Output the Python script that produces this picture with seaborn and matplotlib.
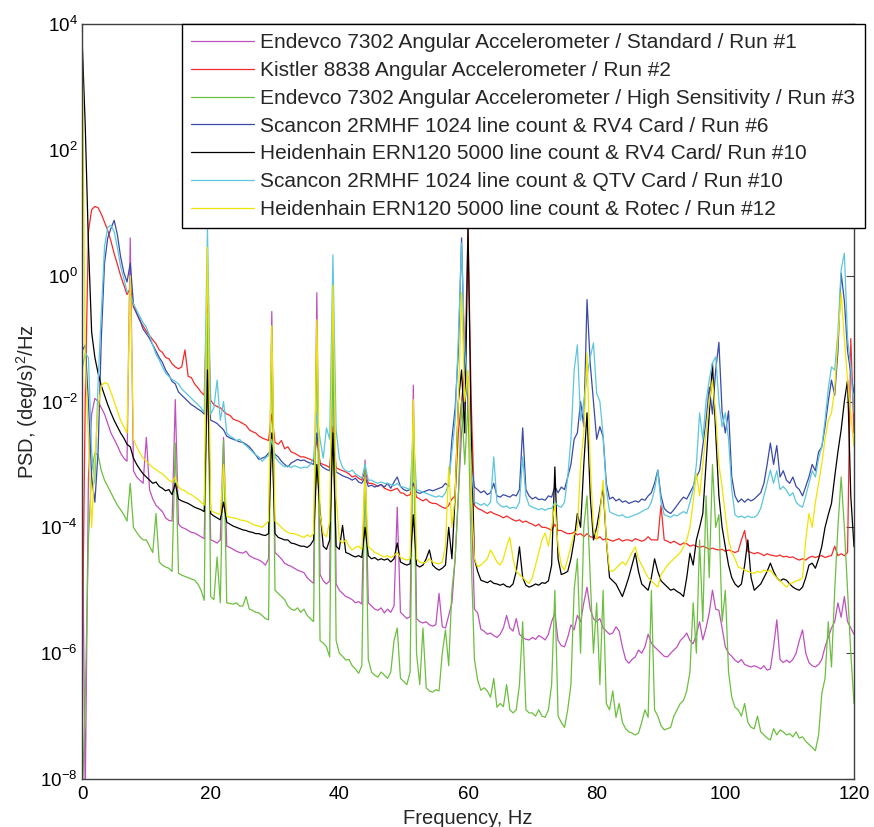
import numpy as np
import pandas as pd
import matplotlib
matplotlib.use("Agg")
import matplotlib.pyplot as plt
from matplotlib.ticker import NullLocator
import seaborn as sns

# Frequency bins of the spectra (0.5 Hz resolution, 0-120 Hz)
freq_hz = np.arange(0, 120.5, 0.5)

sensor_labels = [
    "Endevco 7302 Angular Accelerometer / Standard / Run #1",
    "Kistler 8838 Angular Accelerometer / Run #2",
    "Endevco 7302 Angular Accelerometer / High Sensitivity / Run #3",
    "Scancon 2RMHF 1024 line count & RV4 Card / Run #6",
    "Heidenhain ERN120 5000 line count & RV4 Card/ Run #10",
    "Scancon 2RMHF 1024 line count & QTV Card / Run #10",
    "Heidenhain ERN120 5000 line count & Rotec / Run #12",
]
line_colors = ["#bf50bf", "#f52a2a", "#6cbf3f", "#3a4aa8", "#000000", "#5cc6dc", "#f0e400"]

# PSD values as log10((deg/s)^2/Hz), one value per frequency bin
log_psd_endevco_std = [
    -3.0, -8.3, -3.2, -2.2, -1.95, -2.0, -2.1, -2.2, -2.35, -2.5, -2.6, -2.7, -2.82, -2.9, -2.95, 0.6, -3.1, -3.2, -3.25, -3.3,
    -2.57, -3.4, -3.55, -3.65, -3.7, -3.75, -3.85, -3.89, -3.9, -1.97, -3.95, -4.0, -4.02, -4.05, -4.08, -4.09, -4.12, -4.15, -4.18, -1.5,
    -4.2, -4.22, -4.25, -4.2, -2.57, -4.3, -4.32, -4.35, -4.38, -4.4, -4.41, -4.38, -4.45, -4.48, -4.5, -4.52, -4.55, -4.6, -4.5, -0.57,
    -4.4, -4.45, -4.5, -4.57, -4.6, -4.62, -4.65, -4.68, -4.7, -4.72, -4.8, -4.85, -4.89, -0.27, -4.75, -4.85, -4.9, -4.85, -0.5, -4.9,
    -5.0, -5.05, -5.1, -5.12, -5.15, -5.2, -5.18, -5.22, -2.93, -5.2, -5.25, -5.3, -5.32, -5.28, -5.36, -5.3, -5.35, -5.25, -3.68, -5.35,
    -5.4, -5.45, -5.42, -1.74, -5.45, -5.5, -5.52, -5.5, -5.55, -5.57, -5.55, -5.05, -5.58, -5.6, -5.4, -5.2, -4.5, -3.5, -2.5, -2.0,
    -1.6, -3.5, -5.3, -5.36, -5.62, -5.65, -5.7, -5.68, -5.72, -5.75, -5.7, -5.6, -5.4, -5.6, -5.65, -5.45, -5.7, -5.75, -5.78, -5.79,
    -5.75, -5.78, -5.72, -5.75, -5.79, -5.7, -5.5, -5.36, -5.8, -5.88, -5.9, -5.75, -5.55, -5.63, -5.4, -5.5, -5.2, -4.95, -5.3, -5.45,
    -5.5, -5.45, -5.6, -5.65, -5.7, -5.68, -5.58, -5.65, -5.9, -6.1, -6.16, -6.1, -6.06, -5.95, -6.0, -5.9, -5.7, -5.84, -5.9, -5.95,
    -6.0, -6.05, -6.06, -6.0, -5.95, -5.9, -5.8, -5.75, -5.68, -5.8, -5.85, -5.7, -5.5, -5.79, -5.6, -5.36, -5.0, -5.3, -5.32, -5.6,
    -5.9, -6.0, -6.05, -6.11, -6.15, -6.1, -6.18, -6.2, -6.22, -6.2, -6.22, -6.25, -6.2, -6.27, -6.25, -5.9, -5.47, -6.1, -6.15, -6.11,
    -6.15, -6.1, -6.0, -5.8, -5.63, -6.0, -6.15, -6.2, -6.22, -6.18, -6.1, -5.9, -5.75, -5.6, -5.5, -5.2, -5.43, -5.1, -5.5, -5.6,
    -5.7,
]

log_psd_kistler = [
    -6.4, -2.0, 0.7, 1.05, 1.1, 1.08, 0.98, 0.85, 0.72, 0.55, 0.35, 0.18, 0.0, -0.15, -0.3, -0.2, -0.5, -0.6, -0.72, -0.8,
    -0.88, -0.95, -1.02, -1.08, -1.18, -1.22, -1.3, -1.32, -1.4, -1.45, -1.48, -1.45, -1.18, -1.6, -1.62, -1.72, -1.78, -1.85, -1.9, -0.3,
    -1.98, -2.05, -2.08, -2.1, -2.15, -2.2, -2.22, -2.28, -2.3, -2.32, -2.35, -2.38, -2.45, -2.48, -2.5, -2.55, -2.58, -2.6, -2.62, -2.2,
    -2.65, -2.68, -2.62, -2.75, -2.72, -2.8, -2.82, -2.85, -2.88, -2.88, -2.9, -2.92, -2.95, -2.6, -2.98, -3.0, -3.02, -3.05, -2.4, -3.05,
    -3.08, -3.1, -3.12, -3.15, -3.2, -3.18, -3.22, -3.25, -3.1, -3.3, -3.3, -3.32, -3.35, -3.32, -3.38, -3.4, -3.42, -3.4, -3.38, -3.45,
    -3.46, -3.5, -3.48, -3.3, -3.52, -3.55, -3.58, -3.55, -3.6, -3.62, -3.62, -3.65, -3.68, -3.7, -3.65, -3.55, -3.5, -2.5, -2.0, -1.5,
    0.75, -2.0, -3.65, -3.7, -3.72, -3.75, -3.78, -3.75, -3.78, -3.8, -3.82, -3.85, -3.82, -3.85, -3.88, -3.9, -3.88, -3.92, -3.9, -3.93,
    -3.95, -3.98, -3.95, -4.0, -4.0, -4.02, -4.05, -3.95, -4.05, -4.05, -4.08, -4.1, -4.1, -4.08, -4.12, -4.1, -4.15, -4.1, -4.15, -4.16,
    -4.18, -4.15, -4.2, -4.18, -4.2, -4.22, -4.2, -4.18, -4.22, -4.2, -4.2, -4.22, -4.18, -4.2, -4.22, -4.2, -4.15, -4.2, -4.2, -4.2,
    -3.65, -4.2, -4.22, -4.25, -4.22, -4.25, -4.28, -4.25, -4.26, -4.3, -4.28, -4.3, -4.32, -4.3, -4.32, -4.35, -4.33, -4.35, -4.36, -4.35,
    -4.38, -4.36, -4.38, -4.4, -4.38, -4.2, -4.05, -4.38, -4.4, -4.42, -4.4, -4.42, -4.45, -4.42, -4.44, -4.45, -4.46, -4.44, -4.47, -4.46,
    -4.48, -4.47, -4.5, -4.52, -4.5, -4.52, -4.48, -4.46, -4.48, -4.46, -4.45, -4.48, -4.46, -4.45, -4.3, -4.45, -4.42, -4.45, -4.4, -1.0,
    -2.5,
]

log_psd_endevco_hs = [
    -8.5, -6.75, -4.2, -3.1, -2.82, -2.85, -3.1, -3.25, -3.35, -3.45, -3.55, -3.65, -3.72, -3.8, -3.9, -3.3, -4.0, -4.08, -4.15, -4.2,
    -4.2, -4.3, -4.4, -3.78, -4.55, -4.6, -4.63, -4.65, -4.7, -2.66, -4.73, -4.76, -4.78, -4.8, -4.82, -4.84, -4.9, -5.0, -5.16, -0.6,
    -5.1, -5.15, -4.47, -5.2, -2.62, -5.2, -5.21, -5.22, -5.2, -5.25, -5.25, -5.1, -5.3, -5.32, -5.35, -5.36, -5.4, -5.45, -5.47, -0.8,
    -5.0, -5.05, -5.1, -5.15, -5.25, -5.3, -5.32, -5.28, -5.35, -5.3, -5.4, -5.45, -5.5, -0.8, -5.8, -5.84, -5.9, -6.06, -0.9, -5.8,
    -6.0, -6.05, -6.11, -6.1, -6.2, -6.25, -6.32, -6.2, -3.0, -6.1, -6.3, -6.35, -6.38, -6.3, -6.35, -6.4, -6.3, -5.8, -5.6, -6.4,
    -6.45, -6.5, -6.3, -2.2, -6.0, -6.5, -5.6, -6.55, -6.6, -6.62, -6.58, -6.6, -6.0, -5.63, -6.2, -5.0, -4.5, -3.5, -2.0, -3.0,
    -2.0, -4.5, -6.1, -6.43, -6.59, -6.55, -6.6, -6.7, -6.4, -6.86, -6.8, -6.85, -6.5, -6.9, -6.95, -6.9, -6.5, -5.5, -6.9, -6.95,
    -6.95, -7.0, -6.9, -7.0, -7.02, -6.9, -6.5, -5.0, -7.0, -7.1, -7.18, -6.9, -6.5, -5.0, -4.5, -6.0, -4.0, -3.5, -4.8, -6.0,
    -5.2, -6.5, -5.0, -6.8, -6.9, -6.6, -7.02, -6.8, -7.1, -7.2, -7.25, -7.27, -7.3, -7.27, -7.1, -6.9, -7.02, -5.0, -6.9, -7.0,
    -7.15, -7.22, -7.2, -7.18, -7.0, -6.9, -6.8, -6.75, -6.6, -6.3, -5.2, -6.0, -4.2, -5.5, -3.5, -4.8, -3.0, -4.0, -3.8, -5.5,
    -5.0, -6.3, -6.7, -6.86, -6.9, -7.0, -6.8, -7.1, -7.18, -7.2, -7.0, -7.25, -7.3, -7.35, -7.38, -7.2, -7.3, -7.22, -7.25, -7.3,
    -7.28, -7.33, -7.25, -7.35, -7.33, -7.4, -7.45, -7.5, -7.55, -7.3, -6.64, -6.4, -5.5, -6.22, -5.0, -4.0, -3.2, -4.0, -5.0, -6.0,
    -6.8,
]

log_psd_scancon_rv4 = [
    -1.2, -1.1, -2.0, -3.2, -3.6, -2.8, -1.0, 0.2, 0.6, 0.75, 0.88, 0.65, 0.3, 0.05, -0.1, 0.2, -0.45, -0.6, -0.7, -0.85,
    -0.92, -1.0, -1.1, -1.2, -1.3, -1.38, -1.5, -1.58, -1.68, -1.72, -1.85, -1.9, -1.95, -2.0, -2.05, -2.08, -2.12, -2.15, -2.2, -1.5,
    -2.3, -2.32, -2.35, -2.4, -2.45, -2.55, -2.58, -2.6, -2.62, -2.64, -2.65, -2.68, -2.72, -2.78, -2.85, -2.92, -2.9, -2.88, -2.82, -2.8,
    -2.84, -2.88, -2.95, -3.0, -3.04, -2.98, -2.95, -2.92, -2.94, -2.93, -2.96, -2.98, -3.0, -2.5, -3.0, -3.05, -3.08, -3.1, -2.6, -3.12,
    -3.15, -3.18, -3.2, -3.22, -3.25, -3.22, -3.28, -3.3, -3.2, -3.35, -3.33, -3.36, -3.34, -3.32, -3.36, -3.3, -3.38, -3.28, -3.2, -3.35,
    -3.4, -3.42, -3.4, -3.3, -3.44, -3.46, -3.44, -3.42, -3.4, -3.42, -3.4, -3.38, -3.36, -3.3, -3.35, -2.6, -2.1, -1.2, 0.6, -1.5,
    -2.0, -3.0, -3.36, -3.4, -3.45, -3.42, -3.48, -3.45, -3.3, -3.5, -3.52, -3.48, -3.5, -3.52, -3.48, -3.5, -3.4, -2.42, -3.4, -3.5,
    -3.55, -3.52, -3.56, -3.55, -3.57, -3.5, -3.52, -3.35, -3.45, -3.36, -3.4, -3.2, -3.0, -2.6, -2.5, -2.0, -2.4, -0.38, -1.4, -2.0,
    -2.6, -2.4, -2.56, -3.3, -3.55, -3.52, -3.58, -3.55, -3.6, -3.58, -3.62, -3.6, -3.58, -3.6, -3.55, -3.57, -3.5, -3.45, -3.3, -3.09,
    -3.5, -3.7, -3.75, -3.78, -3.72, -3.65, -3.58, -3.52, -3.55, -3.45, -3.35, -3.2, -3.1, -2.7, -2.3, -1.77, -2.2, -1.5, -1.06, -2.17,
    -2.5, -2.15, -3.2, -3.5, -3.6, -3.55, -3.6, -3.55, -3.58, -3.55, -3.5, -3.45, -3.3, -3.0, -2.66, -3.0, -2.7, -3.2, -3.1, -3.25,
    -3.3, -3.2, -3.35, -3.4, -3.5, -3.35, -3.2, -3.0, -3.1, -2.8, -2.72, -2.4, -2.0, -1.66, -1.9, -1.2, 0.04, -0.4, -1.2, -1.55,
    -1.87,
]

log_psd_heidenhain_rv4 = [
    3.8, 2.4, 0.5, -0.9, -1.3, -1.55, -1.75, -1.9, -2.05, -2.18, -2.3, -2.4, -2.5, -2.58, -2.68, -2.72, -2.9, -3.0, -3.08, -3.15,
    -3.2, -3.25, -3.3, -3.28, -3.35, -3.38, -3.42, -3.4, -3.48, -3.3, -3.55, -3.58, -3.6, -3.62, -3.65, -3.68, -3.7, -3.72, -3.75, -1.5,
    -3.78, -3.82, -3.85, -3.88, -3.6, -3.92, -3.95, -3.98, -4.0, -4.02, -4.04, -4.05, -4.07, -4.08, -4.1, -4.1, -4.12, -4.13, -4.1, -2.5,
    -4.1, -4.16, -4.18, -4.2, -4.2, -4.25, -4.26, -4.28, -4.3, -4.3, -4.32, -4.28, -4.2, -3.0, -3.73, -4.3, -4.35, -4.2, -2.5, -4.3,
    -4.35, -3.97, -4.4, -4.42, -4.45, -4.47, -4.45, -4.48, -4.0, -4.45, -4.5, -4.48, -4.52, -4.5, -4.52, -4.5, -4.55, -4.5, -4.25, -4.55,
    -4.58, -4.6, -4.58, -3.8, -4.6, -4.63, -4.6, -4.5, -4.36, -4.6, -4.65, -4.68, -4.65, -4.6, -4.0, -4.5, -3.5, -2.0, -1.5, -2.5,
    0.76, -2.5, -4.5, -4.7, -4.84, -4.86, -4.88, -4.85, -4.89, -4.9, -4.92, -4.9, -4.94, -4.95, -4.9, -4.7, -4.31, -4.8, -4.92, -4.95,
    -4.93, -4.9, -4.92, -4.88, -4.89, -4.85, -4.6, -3.04, -4.5, -4.75, -4.73, -4.7, -4.5, -4.2, -3.78, -4.0, -3.0, -2.18, -3.5, -4.2,
    -4.0, -3.7, -3.36, -4.2, -4.8, -4.85, -4.9, -5.0, -5.1, -4.95, -4.79, -4.6, -4.41, -4.7, -4.9, -4.95, -5.0, -4.8, -4.5, -4.7,
    -4.85, -4.9, -4.95, -5.0, -4.98, -5.02, -5.05, -5.1, -4.8, -4.41, -4.6, -4.2, -4.0, -3.78, -3.0, -2.2, -1.39, -2.5, -3.5, -4.0,
    -4.31, -4.6, -4.8, -4.9, -4.95, -4.9, -4.6, -4.2, -4.8, -5.0, -4.95, -4.9, -4.8, -4.7, -4.57, -4.7, -4.8, -4.85, -4.82, -4.84,
    -4.9, -4.95, -4.98, -5.0, -4.95, -4.8, -4.6, -4.57, -4.65, -4.5, -4.3, -4.0, -3.8, -3.62, -3.2, -2.8, -2.45, -2.0, -1.66, -3.5,
    -4.31,
]

log_psd_scancon_qtv = [
    -1.5, -1.23, -1.3, -2.8, -3.3, -1.7, -0.6, 0.46, 0.77, 0.8, 0.7, 0.45, 0.15, -0.05, -0.25, -0.3, -0.45, -0.55, -0.65, -0.75,
    -0.82, -0.95, -1.1, -1.25, -1.34, -1.45, -1.55, -1.6, -1.65, -1.68, -1.72, -1.8, -1.85, -1.9, -1.95, -2.0, -2.05, -2.1, -2.18, 0.75,
    -2.2, -2.1, -1.66, -2.3, -2.0, -2.5, -2.55, -2.58, -2.62, -2.6, -2.66, -2.7, -2.75, -2.8, -2.85, -2.88, -2.95, -2.9, -2.86, -2.6,
    -2.88, -2.95, -3.0, -3.04, -3.02, -3.05, -3.02, -3.04, -3.06, -3.04, -3.05, -3.0, -2.9, -2.18, -2.6, -2.9, -2.42, -2.6, 0.33, -2.45,
    -2.9, -3.05, -3.1, -3.12, -3.09, -3.15, -3.18, -3.22, -3.0, -3.25, -3.25, -3.28, -3.3, -3.28, -3.3, -3.3, -3.32, -3.34, -3.3, -3.35,
    -3.36, -3.38, -3.4, -2.5, -3.4, -3.42, -3.44, -3.46, -3.48, -3.5, -3.52, -3.5, -3.52, -3.45, -3.3, -2.8, -2.3, -1.0, 0.52, -1.2,
    -1.8, -3.0, -3.6, -3.62, -3.65, -3.62, -3.66, -3.6, -2.88, -3.6, -3.65, -3.68, -3.66, -3.7, -3.68, -3.7, -3.6, -2.88, -3.5, -3.65,
    -3.68, -3.7, -3.72, -3.7, -3.73, -3.7, -3.7, -3.6, -3.66, -3.68, -3.6, -3.2, -2.6, -1.5, -1.1, -2.3, -2.0, -1.6, -1.3, -1.07,
    -1.87, -2.0, -2.53, -3.4, -3.75, -3.78, -3.8, -3.82, -3.8, -3.84, -3.84, -3.82, -3.8, -3.78, -3.75, -3.72, -3.7, -3.6, -3.4, -3.1,
    -3.6, -3.8, -3.82, -3.84, -3.8, -3.82, -3.78, -3.75, -3.78, -3.6, -3.4, -3.0, -2.18, -2.6, -2.0, -1.66, -1.39, -1.29, -2.0, -2.4,
    -2.18, -2.6, -3.4, -3.8, -3.84, -3.82, -3.85, -3.82, -3.84, -3.84, -3.8, -3.7, -3.5, -3.3, -3.09, -3.3, -3.1, -3.4, -3.35, -3.41,
    -3.5, -3.45, -3.6, -3.65, -3.68, -3.5, -3.3, -3.1, -3.2, -2.9, -2.72, -2.3, -1.8, -1.45, -1.5, -0.9, 0.09, 0.36, -1.0, -1.45,
    -2.18,
]

log_psd_heidenhain_rotec = [
    4.0, -1.3, -2.6, -4.0, -2.9, -2.1, -1.75, -1.7, -1.72, -1.85, -2.0, -2.15, -2.3, -2.4, -2.5, 0.0, -2.6, -2.72, -2.82, -2.9,
    -2.95, -3.0, -3.05, -3.08, -3.12, -3.15, -3.2, -3.25, -3.28, -3.2, -3.36, -3.4, -3.42, -3.46, -3.48, -3.52, -3.55, -3.6, -3.65, 0.45,
    -3.73, -3.76, -3.78, -3.8, -3.0, -3.82, -3.84, -3.85, -3.86, -3.88, -3.89, -3.9, -3.92, -3.95, -3.97, -3.98, -4.0, -3.95, -3.9, -0.8,
    -3.9, -3.95, -4.0, -4.05, -4.08, -4.1, -4.1, -4.12, -4.14, -4.16, -4.12, -4.15, -4.1, -0.7, -3.8, -4.1, -4.15, -3.9, -0.15, -3.5,
    -4.2, -4.25, -4.2, -4.3, -4.36, -4.32, -4.3, -4.35, -3.2, -4.31, -4.35, -4.4, -4.42, -4.45, -4.47, -4.45, -4.48, -4.45, -4.4, -4.48,
    -4.5, -4.52, -4.5, -1.97, -4.5, -4.55, -4.57, -4.55, -4.5, -4.55, -4.57, -4.58, -4.55, -4.3, -3.04, -4.0, -3.5, -2.0, -0.27, -2.0,
    -1.5, -3.5, -4.5, -4.63, -4.6, -4.55, -4.5, -4.36, -4.45, -4.55, -4.6, -4.5, -4.3, -4.16, -4.5, -4.7, -4.75, -4.8, -4.85, -4.89,
    -4.8, -4.6, -4.4, -4.2, -4.09, -4.3, -4.0, -3.62, -4.3, -4.6, -4.68, -4.5, -4.3, -4.1, -4.04, -3.0, -2.5, -1.23, -3.0, -4.0,
    -4.2, -3.8, -3.25, -4.2, -4.68, -4.7, -4.65, -4.6, -4.55, -4.6, -4.5, -4.4, -4.31, -4.5, -4.6, -4.7, -4.8, -4.85, -4.9, -4.95,
    -4.75, -4.68, -4.6, -4.55, -4.5, -4.45, -4.4, -4.31, -4.2, -4.0, -3.6, -3.14, -3.5, -3.0, -2.5, -2.0, -1.66, -2.2, -3.0, -3.36,
    -3.8, -4.2, -4.4, -4.5, -4.63, -4.65, -4.68, -4.7, -4.72, -4.73, -4.7, -4.72, -4.68, -4.7, -4.68, -4.75, -4.8, -4.85, -4.9, -4.95,
    -4.9, -4.88, -4.85, -4.84, -4.8, -4.2, -3.78, -4.0, -3.6, -3.3, -2.98, -2.6, -2.3, -2.18, -1.8, -1.0, -0.27, -1.0, -1.66, -2.2,
    -2.72,
]

series_logs = [
    log_psd_endevco_std,
    log_psd_kistler,
    log_psd_endevco_hs,
    log_psd_scancon_rv4,
    log_psd_heidenhain_rv4,
    log_psd_scancon_qtv,
    log_psd_heidenhain_rotec,
]

sns.set_theme(style="white")
plt.rcParams["font.family"] = ["Liberation Sans", "DejaVu Sans"]
plt.rcParams["mathtext.default"] = "regular"
plt.rcParams["axes.unicode_minus"] = False

frames = []
for label, logs in zip(sensor_labels, series_logs):
    frames.append(pd.DataFrame({
        "freq": freq_hz,
        "psd": 10.0 ** np.asarray(logs, dtype=float),
        "sensor": label,
    }))
psd_df = pd.concat(frames, ignore_index=True)

fig = plt.figure(figsize=(8.74, 8.27), dpi=100)
ax = fig.add_axes([82 / 874, 1 - 779 / 827, 772 / 874, 755 / 827])

sns.lineplot(data=psd_df, x="freq", y="psd", hue="sensor", hue_order=sensor_labels,
             palette=line_colors, estimator=None, sort=False, linewidth=0.9,
             legend=False, ax=ax)

ax.set_yscale("log")
ax.set_xlim(0, 120)
ax.set_ylim(1e-8, 1e4)
ax.set_xticks([0, 20, 40, 60, 80, 100, 120])
ax.set_yticks([1e-8, 1e-6, 1e-4, 1e-2, 1e0, 1e2, 1e4])
ax.yaxis.set_minor_locator(NullLocator())
ax.tick_params(axis="both", which="major", direction="in", length=6, width=0.8,
               top=True, right=True, color="#444444", labelsize=13.5, labelcolor="black")
ax.tick_params(axis="x", pad=5)
ax.tick_params(axis="y", pad=3)
for spine in ax.spines.values():
    spine.set_color("#404040")
    spine.set_linewidth(1.0)

ax.set_xlabel("Frequency, Hz", fontsize=14.5, labelpad=4)
ax.set_ylabel("PSD, (deg/s)$^2$/Hz", fontsize=14.5, labelpad=0)

handles = ax.get_lines()[:len(sensor_labels)]
leg = ax.legend(handles, sensor_labels, loc="upper left",
                bbox_to_anchor=((182 - 82) / 772, 1.0), borderaxespad=0,
                fontsize=15, handlelength=3.0, handletextpad=0.3,
                labelspacing=0.42, borderpad=0.45, frameon=True, fancybox=False,
                framealpha=1, edgecolor="black")
leg.get_frame().set_linewidth(1.0)

fig.savefig("out.png", dpi=100)
